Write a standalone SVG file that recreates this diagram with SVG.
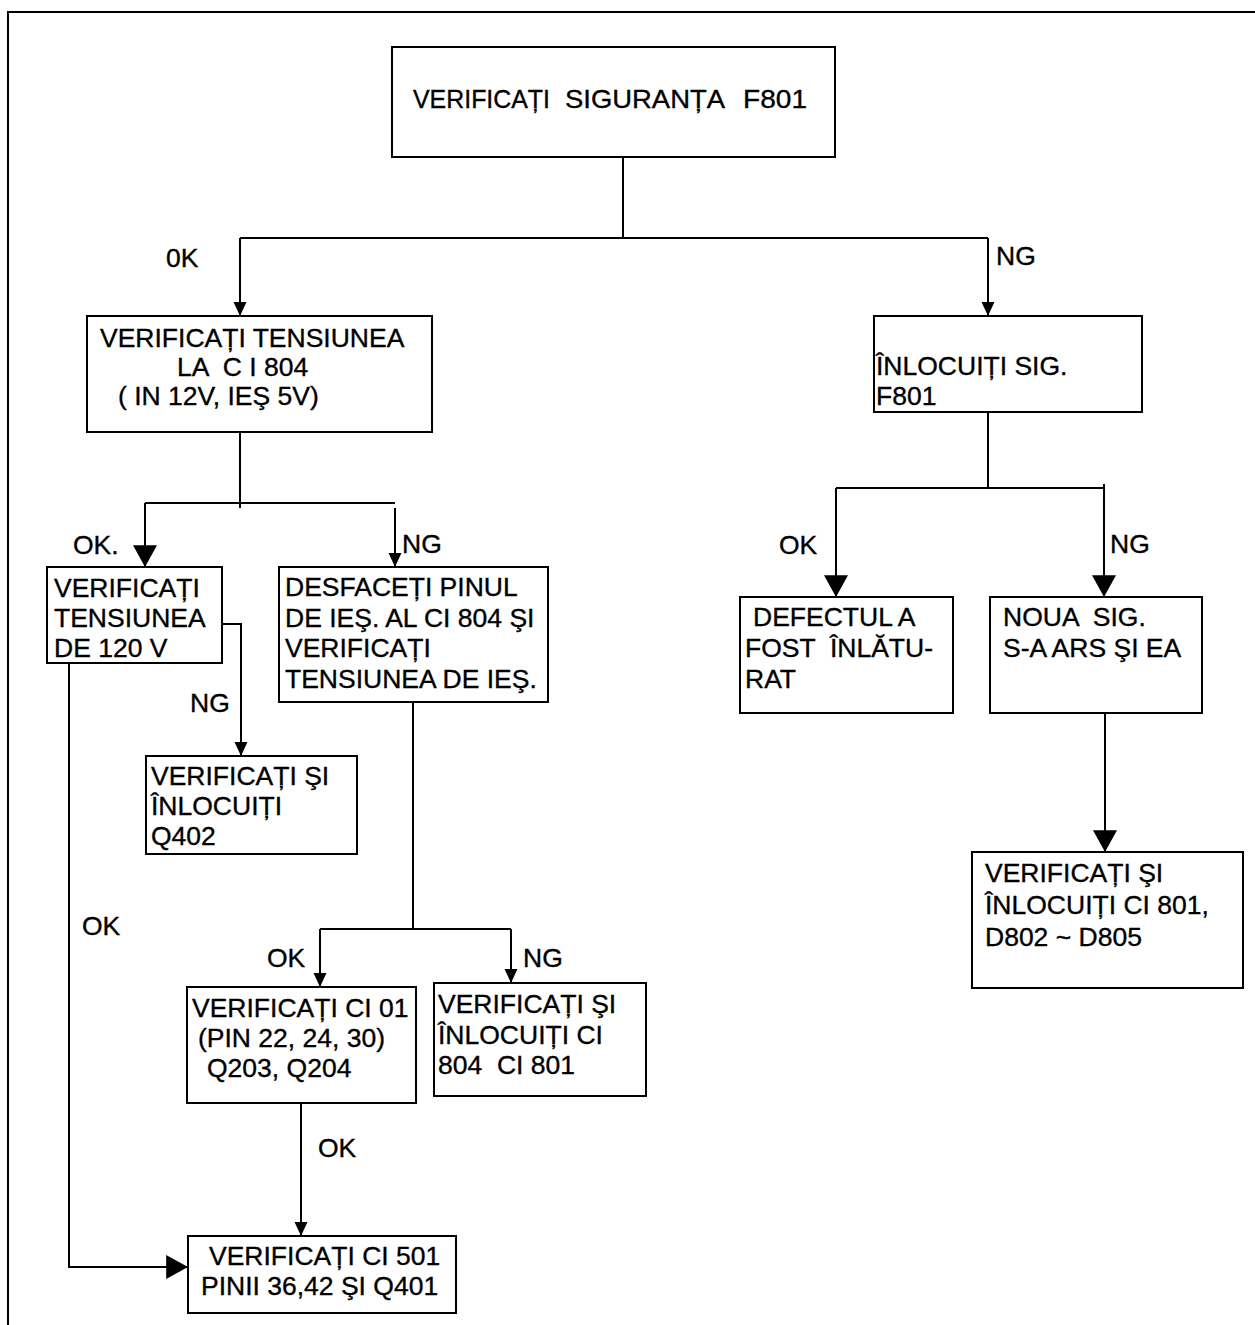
<svg xmlns="http://www.w3.org/2000/svg" width="1255" height="1325" viewBox="0 0 1255 1325">
<style>
  .box { fill: #fff; stroke: #000; stroke-width: 2; }
  .t { font-family: "Liberation Sans", Arial, sans-serif; font-size: 26.5px; fill: #000; stroke: #000; stroke-width: 0.35; white-space: pre; }
  .c { fill: none; stroke: #000; stroke-width: 2; }
  .frame { fill: none; stroke: #000; stroke-width: 2; }
</style>
<defs>
  <marker id="as" markerUnits="userSpaceOnUse" markerWidth="14" markerHeight="14" viewBox="0 0 13 12" refX="13" refY="6" orient="auto">
    <path d="M0,0 L13,6 L0,12 z" fill="#000"/>
  </marker>
  <marker id="ab" markerUnits="userSpaceOnUse" markerWidth="22" markerHeight="24" viewBox="0 0 20 22" refX="20" refY="11" orient="auto">
    <path d="M0,0 L20,11 L0,22 z" fill="#000"/>
  </marker>
</defs>
<rect width="1255" height="1325" fill="#fff"/>
<path class="frame" d="M8,1325 V12 H1255"/>

<g id="connectors">
  <path class="c" d="M623,157 V238"/>
  <path class="c" d="M240,238 H988"/>
  <path class="c" d="M240,238 V316" marker-end="url(#as)"/>
  <path class="c" d="M988,238 V316" marker-end="url(#as)"/>
  <path class="c" d="M240,432 V508"/>
  <path class="c" d="M145,503 H395"/>
  <path class="c" d="M145,503 V567" marker-end="url(#ab)"/>
  <path class="c" d="M395,508 V567" marker-end="url(#as)"/>
  <path class="c" d="M222,624 H241 V756" marker-end="url(#as)"/>
  <path class="c" d="M69,663 V1267 H188" marker-end="url(#ab)"/>
  <path class="c" d="M413,702 V929"/>
  <path class="c" d="M320,929 H511"/>
  <path class="c" d="M320,929 V987" marker-end="url(#as)"/>
  <path class="c" d="M511,929 V983" marker-end="url(#as)"/>
  <path class="c" d="M301,1103 V1236" marker-end="url(#as)"/>
  <path class="c" d="M988,412 V488"/>
  <path class="c" d="M836,488 H1104"/>
  <path class="c" d="M836,488 V597" marker-end="url(#ab)"/>
  <path class="c" d="M1104,484 V597" marker-end="url(#ab)"/>
  <path class="c" d="M1105,713 V852" marker-end="url(#ab)"/>
  <g id="labels">
    <text class="t" x="166" y="267">0K</text>
    <text class="t" x="996" y="265">NG</text>
    <text class="t" x="73" y="554">OK.</text>
    <text class="t" x="402" y="553">NG</text>
    <text class="t" x="190" y="712">NG</text>
    <text class="t" x="82" y="935">OK</text>
    <text class="t" x="267" y="967">OK</text>
    <text class="t" x="523" y="967">NG</text>
    <text class="t" x="318" y="1157">OK</text>
    <text class="t" x="779" y="554">OK</text>
    <text class="t" x="1110" y="553">NG</text>
  </g>
</g>

<g id="n1">
  <rect class="box" x="392" y="47" width="443" height="110"/>
  <text class="t" y="108"><tspan x="413" textLength="137" lengthAdjust="spacingAndGlyphs">VERIFICAȚI</tspan><tspan x="565" textLength="160" lengthAdjust="spacingAndGlyphs">SIGURANȚA</tspan><tspan x="743" textLength="64" lengthAdjust="spacingAndGlyphs">F801</tspan></text>
</g>
<g id="n2">
  <rect class="box" x="87" y="316" width="345" height="116"/>
  <text class="t" x="100" y="347">VERIFICAȚI TENSIUNEA</text>
  <text class="t" x="177" y="376">LA  C I 804</text>
  <text class="t" x="118" y="405">( IN 12V, IEŞ 5V)</text>
</g>
<g id="n3">
  <rect class="box" x="874" y="316" width="268" height="96"/>
  <text class="t" x="876" y="375">ÎNLOCUIȚI SIG.</text>
  <text class="t" x="876" y="405">F801</text>
</g>
<g id="n4">
  <rect class="box" x="47" y="567" width="175" height="96"/>
  <text class="t" x="54" y="597">VERIFICAȚI</text>
  <text class="t" x="54" y="627">TENSIUNEA</text>
  <text class="t" x="54" y="657">DE 120 V</text>
</g>
<g id="n5">
  <rect class="box" x="279" y="567" width="269" height="135"/>
  <text class="t" x="285" y="596">DESFACEȚI PINUL</text>
  <text class="t" x="285" y="627">DE IEŞ. AL CI 804 ŞI</text>
  <text class="t" x="285" y="657">VERIFICAȚI</text>
  <text class="t" x="285" y="688">TENSIUNEA DE IEŞ.</text>
</g>
<g id="n6">
  <rect class="box" x="146" y="756" width="211" height="98"/>
  <text class="t" x="151" y="785">VERIFICAȚI ŞI</text>
  <text class="t" x="151" y="815">ÎNLOCUIȚI</text>
  <text class="t" x="151" y="845">Q402</text>
</g>
<g id="n7">
  <rect class="box" x="740" y="597" width="213" height="116"/>
  <text class="t" x="753" y="626">DEFECTUL A</text>
  <text class="t" x="745" y="657">FOST  ÎNLĂTU-</text>
  <text class="t" x="745" y="688">RAT</text>
</g>
<g id="n8">
  <rect class="box" x="990" y="597" width="212" height="116"/>
  <text class="t" x="1003" y="626">NOUA  SIG.</text>
  <text class="t" x="1003" y="657">S-A ARS ŞI EA</text>
</g>
<g id="n9">
  <rect class="box" x="972" y="852" width="271" height="136"/>
  <text class="t" x="985" y="882">VERIFICAȚI ŞI</text>
  <text class="t" x="985" y="914">ÎNLOCUIȚI CI 801,</text>
  <text class="t" x="985" y="946">D802 ~ D805</text>
</g>
<g id="n10">
  <rect class="box" x="187" y="987" width="229" height="116"/>
  <text class="t" x="192" y="1017">VERIFICAȚI CI 01</text>
  <text class="t" x="198" y="1047">(PIN 22, 24, 30)</text>
  <text class="t" x="207" y="1077">Q203, Q204</text>
</g>
<g id="n11">
  <rect class="box" x="434" y="983" width="212" height="113"/>
  <text class="t" x="438" y="1013">VERIFICAȚI ŞI</text>
  <text class="t" x="438" y="1044">ÎNLOCUIȚI CI</text>
  <text class="t" x="438" y="1074">804  CI 801</text>
</g>
<g id="n12">
  <rect class="box" x="188" y="1236" width="268" height="77"/>
  <text class="t" x="209" y="1265">VERIFICAȚI CI 501</text>
  <text class="t" x="201" y="1295">PINII 36,42 ŞI Q401</text>
</g>
</svg>
